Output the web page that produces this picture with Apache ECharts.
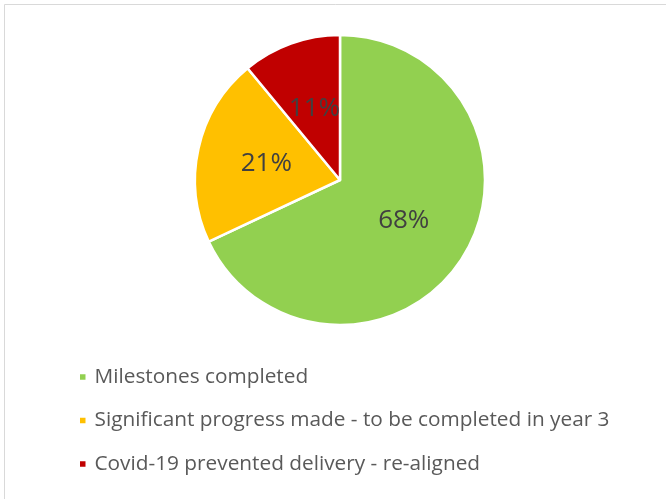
<!DOCTYPE html>
<html><head><meta charset="utf-8">
<script src="https://cdn.jsdelivr.net/npm/echarts@6/dist/echarts.min.js"></script>
<style>html,body{margin:0;padding:0;background:#fff}#c{width:666px;height:499px}</style>
</head><body><div id="c"></div>
<script>
const categories = ["Milestones completed", "Significant progress made - to be completed in year 3", "Covid-19 prevented delivery - re-aligned"];
const values = [68, 21, 11];
const colors = ["#92D050", "#FFC000", "#C00000"];
const chart = echarts.init(document.getElementById('c'));
chart.setOption({
  animation: false,
  graphic: [{type:'rect', shape:{x:4.5,y:4.5,width:700,height:600}, style:{fill:'none', stroke:'#d9d9d9', lineWidth:1}}],
  legend: {
    orient: 'vertical', left: 78, top: 366, padding: 0,
    icon: 'rect', itemWidth: 7.5, itemHeight: 7.5, itemGap: 21.5,
    textStyle: {fontFamily: 'Open Sans', fontSize: 20.8, lineHeight: 22, color: '#595959', padding:[0,0,0,3]},
    data: categories
  },
  series: [{
    type: 'pie', center: [340, 180], radius: 145, startAngle: 90, clockwise: true,
    label: {show: true, position: 'inside', formatter: '{d}%', fontFamily: 'Open Sans', fontSize: 26, color: '#404040'},
    labelLine: {show: false},
    itemStyle: {borderColor: '#fff', borderWidth: 2.5},
    emphasis: {disabled: true},
    data: categories.map((c, i) => ({name: c, value: values[i], itemStyle: {color: colors[i]}}))
  }]
});
</script></body></html>
